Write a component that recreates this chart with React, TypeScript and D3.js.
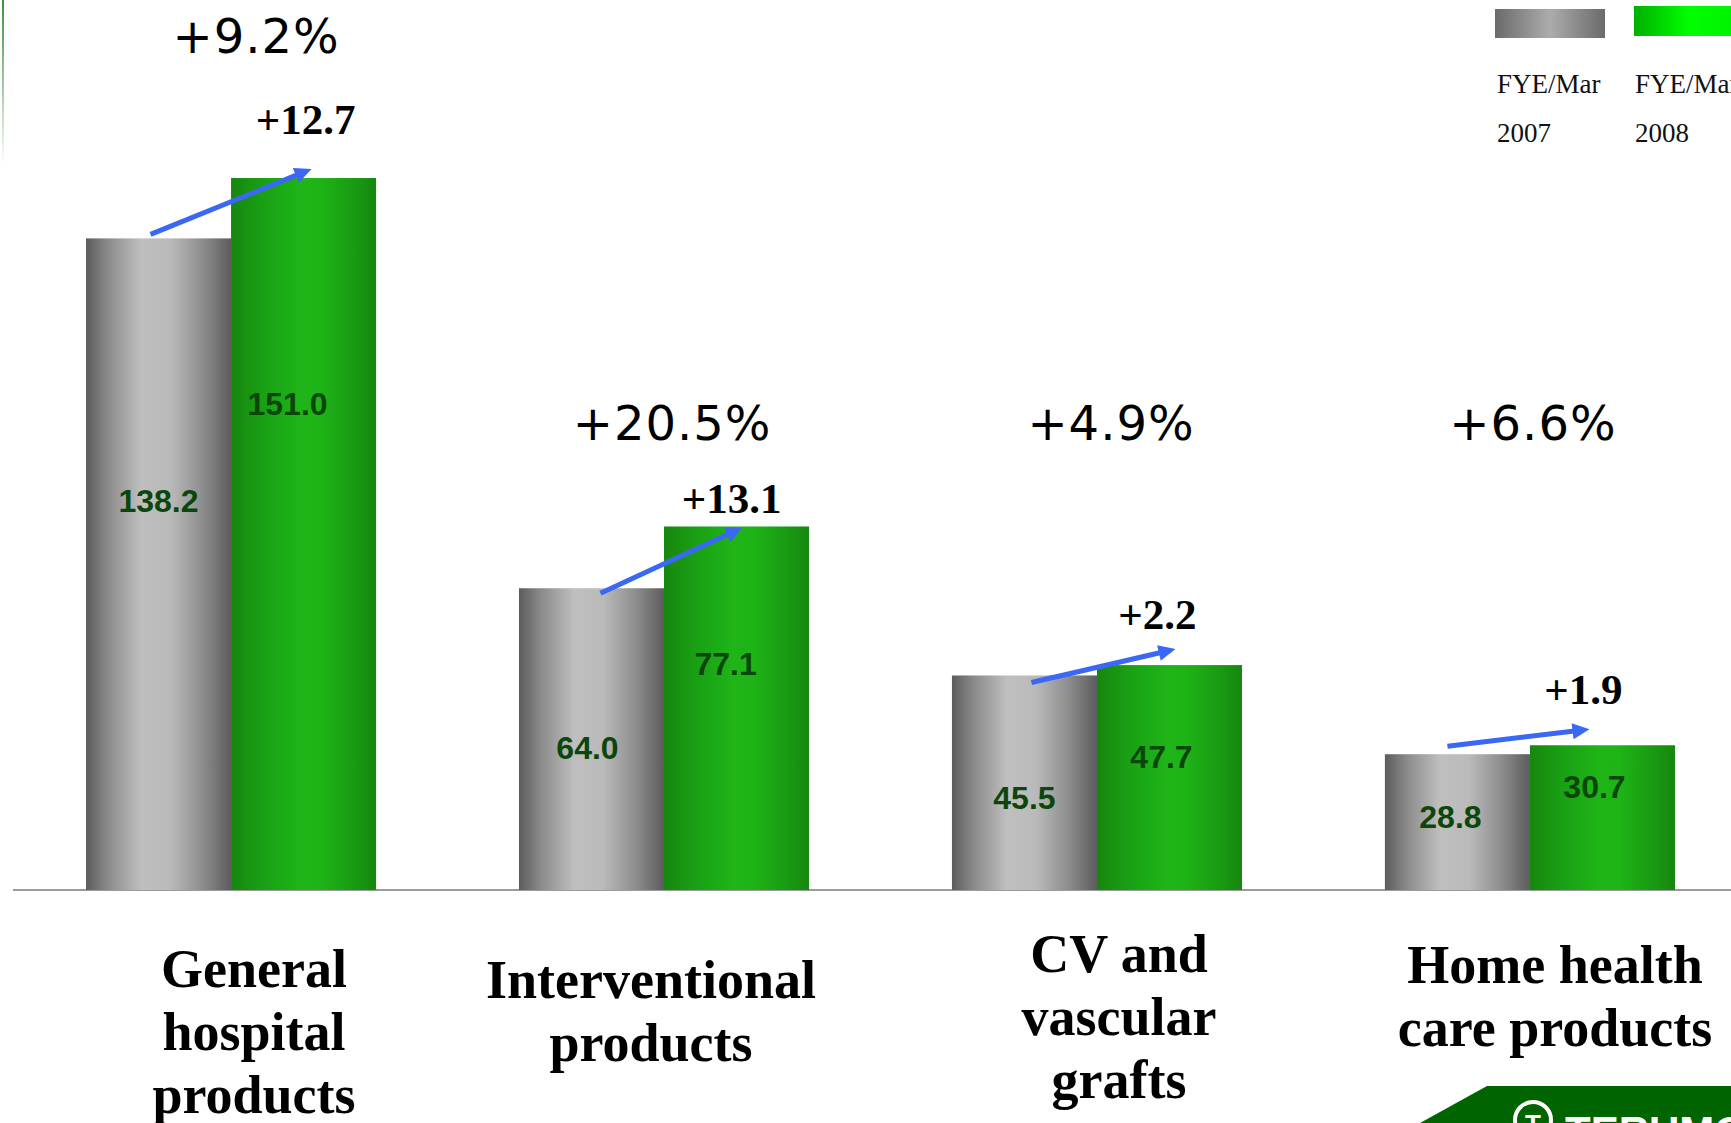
import React from "react";
import * as d3 from "d3";

const categories = ["General hospital products", "Interventional products", "CV and vascular grafts", "Home health care products"];
const categoryLines = [["General", "hospital", "products"], ["Interventional", "products"], ["CV and", "vascular", "grafts"], ["Home health", "care products"]];
const series = ["FY2007", "FY2008"];
const fy2007 = [138.2, 64.0, 45.5, 28.8];
const fy2008 = [151.0, 77.1, 47.7, 30.7];
const changeLabels = ["+12.7", "+13.1", "+2.2", "+1.9"];
const growthLabels = ["+9.2%", "+20.5%", "+4.9%", "+6.6%"];
const legendLabels = [["FYE/Mar", "2007"], ["FYE/Mar", "2008"]];

// layout tweaks (pixels)
const valueDepth = [[274, 237], [171, 149], [134, 103], [74, 53]];
const valueDx = [[0, -16], [-4, -11], [0, -8], [-7, -8]];
const growthY = [53, 440, 440, 440];
const growthDx = [25, 8, 14, 3];
const changeGap = [44, 13, 36, 41];
const changeDx = [2, -5, -12, -19];
const arrowStart = [[-8, -4], [9, 5], [7, 7], [-10, -8]];
const arrowEnd = [[8, -9], [6, 1], [6, -16], [-13, -16]];
const catY = [987, 998, 972, 983];
const catDx = [23, -13, 22, 25];

const W = 1731, H = 1123;

export default function App() {
  const x0 = d3.scaleBand<string>().domain(categories).range([86, 1675]).paddingInner(0.33).paddingOuter(0);
  const x1 = d3.scaleBand<string>().domain(series).range([0, x0.bandwidth()]).padding(0);
  const y = d3.scaleLinear().domain([0, 160]).range([890, 890 - 160 * 4.715]);
  const values = [fy2007, fy2008];
  const grads = ["gradGray", "gradGreen"];
  const serifFont = "'Liberation Serif', 'Times New Roman', serif";
  const sansFont = "'Liberation Sans', Arial, sans-serif";
  const bw = x1.bandwidth();

  return (
    <svg width={W} height={H} viewBox={`0 0 ${W} ${H}`} style={{ position: "absolute", left: 0, top: 0, display: "block", background: "#fff" }}>
      <defs>
        <linearGradient id="gradGray" x1="0" x2="1" y1="0" y2="0">
          <stop offset="0%" stopColor="#5c5c5c" />
          <stop offset="15%" stopColor="#8a8a8a" />
          <stop offset="38%" stopColor="#bfbfbf" />
          <stop offset="58%" stopColor="#bababa" />
          <stop offset="80%" stopColor="#8e8e8e" />
          <stop offset="100%" stopColor="#5c5c5c" />
        </linearGradient>
        <linearGradient id="gradGreen" x1="0" x2="1" y1="0" y2="0">
          <stop offset="0%" stopColor="#17860f" />
          <stop offset="22%" stopColor="#19a014" />
          <stop offset="48%" stopColor="#1fb518" />
          <stop offset="62%" stopColor="#1eb317" />
          <stop offset="85%" stopColor="#199a12" />
          <stop offset="100%" stopColor="#16870f" />
        </linearGradient>
        <linearGradient id="legGray" x1="0" x2="1" y1="0" y2="0">
          <stop offset="0%" stopColor="#6a6a6a" />
          <stop offset="50%" stopColor="#acacac" />
          <stop offset="100%" stopColor="#6a6a6a" />
        </linearGradient>
        <linearGradient id="legGreen" x1="0" x2="1" y1="0" y2="0">
          <stop offset="0%" stopColor="#00b000" />
          <stop offset="50%" stopColor="#00ff00" />
          <stop offset="100%" stopColor="#00f000" />
        </linearGradient>
        <linearGradient id="leftLine" x1="0" x2="0" y1="0" y2="1">
          <stop offset="0%" stopColor="#3f8f3f" />
          <stop offset="100%" stopColor="#3f8f3f" stopOpacity="0" />
        </linearGradient>
      </defs>

      {/* left decorative line */}
      <rect x={2} y={0} width={2} height={165} fill="url(#leftLine)" />

      {/* baseline */}
      <line x1={13} x2={W} y1={y(0)} y2={y(0)} stroke="#7a7a7a" strokeWidth={1.5} />

      {/* bars */}
      {categories.map((c, i) => (
        <g key={c} transform={`translate(${x0(c)},0)`}>
          {series.map((s, j) => {
            const v = values[j][i];
            return (
              <rect key={s} x={x1(s)} y={y(v)} width={bw} height={y(0) - y(v)} fill={`url(#${grads[j]})`} />
            );
          })}
        </g>
      ))}

      {/* value labels */}
      {categories.map((c, i) =>
        series.map((s, j) => {
          const v = values[j][i];
          const cx = (x0(c) as number) + (x1(s) as number) + bw / 2 + valueDx[i][j];
          return (
            <text key={c + s} x={cx} y={y(v) + valueDepth[i][j]} textAnchor="middle" fontFamily={sansFont} fontWeight="bold" fontSize={32} fill="#0b460b">
              {v.toFixed(1)}
            </text>
          );
        })
      )}

      {/* arrows */}
      {categories.map((c, i) => {
        const gx = (x0(c) as number) + (x1(series[0]) as number) + bw / 2;
        const ngx = (x0(c) as number) + (x1(series[1]) as number) + bw / 2;
        const sx = gx + arrowStart[i][0];
        const sy = y(fy2007[i]) + arrowStart[i][1];
        const ex = ngx + arrowEnd[i][0];
        const ey = y(fy2008[i]) + arrowEnd[i][1];
        const ang = Math.atan2(ey - sy, ex - sx);
        const hl = 17, hw = 8;
        const bx = ex - hl * Math.cos(ang), by = ey - hl * Math.sin(ang);
        const px = -Math.sin(ang), py = Math.cos(ang);
        const pts = `${ex},${ey} ${bx + px * hw},${by + py * hw} ${bx - px * hw},${by - py * hw}`;
        return (
          <g key={c + "arrow"}>
            <line x1={sx} y1={sy} x2={bx + 2 * Math.cos(ang)} y2={by + 2 * Math.sin(ang)} stroke="#3a68f5" strokeWidth={5} />
            <polygon points={pts} fill="#3a68f5" />
          </g>
        );
      })}

      {/* change labels */}
      {categories.map((c, i) => {
        const ngx = (x0(c) as number) + (x1(series[1]) as number) + bw / 2;
        return (
          <text key={c + "chg"} x={ngx + changeDx[i]} y={y(fy2008[i]) - changeGap[i]} textAnchor="middle" fontFamily={serifFont} fontWeight="bold" fontSize={43} fill="#000">
            {changeLabels[i]}
          </text>
        );
      })}

      {/* growth labels */}
      {categories.map((c, i) => {
        const cx = (x0(c) as number) + x0.bandwidth() / 2 + growthDx[i];
        return (
          <text key={c + "gr"} x={cx} y={growthY[i]} textAnchor="middle" fontFamily="'DejaVu Sans', sans-serif" fontSize={48} letterSpacing={1} fill="#000">
            {growthLabels[i]}
          </text>
        );
      })}

      {/* category labels */}
      {categories.map((c, i) => {
        const cx = (x0(c) as number) + x0.bandwidth() / 2 + catDx[i];
        return (
          <text key={c + "cat"} textAnchor="middle" fontFamily={serifFont} fontWeight="bold" fontSize={54} fill="#000">
            {categoryLines[i].map((ln, k) => (
              <tspan key={k} x={cx} y={catY[i] + k * 63}>{ln}</tspan>
            ))}
          </text>
        );
      })}

      {/* legend */}
      <rect x={1495} y={9} width={110} height={29} fill="url(#legGray)" />
      <rect x={1634} y={6} width={110} height={30} fill="url(#legGreen)" />
      {legendLabels.map((lines, j) => (
        <text key={"leg" + j} fontFamily={serifFont} fontSize={27} fill="#111">
          <tspan x={j === 0 ? 1497 : 1635} y={93}>{lines[0]}</tspan>
          <tspan x={j === 0 ? 1497 : 1635} y={142}>{lines[1]}</tspan>
        </text>
      ))}

      {/* logo fragment */}
      <polygon points={`1420,${H} 1487,1086 ${W},1086 ${W},${H}`} fill="#006400" />
      <circle cx={1533} cy={1120} r={18} fill="none" stroke="#fff" strokeWidth={4} />
      <text x={1533} y={1133} textAnchor="middle" fontFamily={sansFont} fontWeight="bold" fontSize={26} fill="#fff">T</text>
      <text x={1565} y={1146} fontFamily={sansFont} fontWeight="bold" fontSize={42} fill="#fff">TERUMO</text>
    </svg>
  );
}
